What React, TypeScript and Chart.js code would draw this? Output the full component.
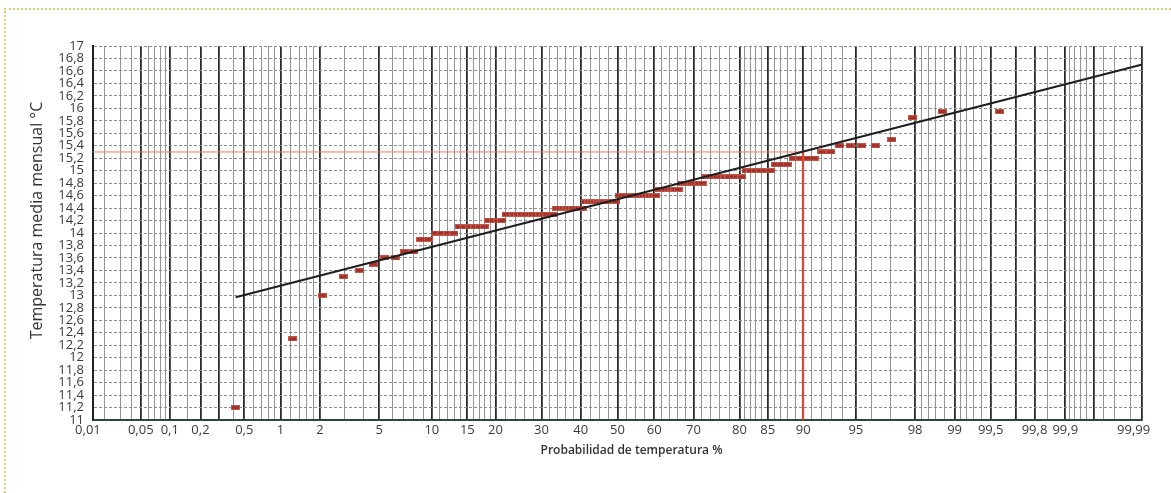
import React, { useEffect, useRef } from "react";
import { Chart, registerables } from "chart.js";

Chart.register(...registerables);

// Monthly mean temperatures (120 months), grouped: each value and how many months had it
const stepTemps = [11.2, 12.3, 13.0, 13.3, 13.4, 13.5, 13.6, 13.7, 13.9, 14.0, 14.1, 14.2, 14.3, 14.4, 14.5, 14.6, 14.7, 14.8, 14.9, 15.0, 15.1, 15.2, 15.3, 15.4, 15.5, 15.85, 15.95];
const stepCounts = [1, 1, 1, 1, 1, 1, 2, 2, 2, 4, 6, 4, 14, 9, 11, 13, 7, 7, 10, 6, 3, 4, 2, 4, 1, 1, 2];

// Probability-paper x axis: labelled lines, extra bold lines, thin lines (in %)
const xLabelProbs = [0.01, 0.05, 0.1, 0.2, 0.5, 1, 2, 5, 10, 15, 20, 30, 40, 50, 60, 70, 80, 85, 90, 95, 98, 99, 99.5, 99.8, 99.9, 99.99];
const xLabelTexts = ["0,01\u00a0\u00a0\u00a0", "0,05", "0,1", "0,2", "0,5", "1", "2", "5", "10", "15", "20", "30", "40", "50", "60", "70", "80", "85", "90", "95", "98", "99", "99,5", "99,8", "99,9", "99,99\u00a0\u00a0\u00a0\u00a0\u00a0"];
const xBoldProbs = [0.3, 99.7, 99.95];
const xThinProbs = [0.02, 0.03, 0.04, 0.06, 0.07, 0.08, 0.09, 0.15, 0.4, 0.6, 0.7, 0.8, 0.9, 1.2, 1.4, 1.6, 1.8, 3, 4, 6, 7, 8, 9, 11, 12, 13, 14, 16, 17, 18, 19, 22, 24, 26, 28, 32, 34, 36, 38, 42.5, 45, 47.5, 52.5, 55, 57.5, 62, 64, 66, 68, 72, 74, 76, 78, 81, 82, 83, 84, 86, 87, 88, 89, 91, 92, 93, 94, 96, 97, 98.2, 98.4, 98.6, 98.8, 99.1, 99.2, 99.3, 99.4, 99.85, 99.91, 99.92, 99.93, 99.94, 99.96, 99.97, 99.98];

// y axis
const yMin = 11;
const yMax = 17;
const yStep = 0.2;

// fitted normal line (two ends) and 90 % reading
const fitProbs = [0.42, 99.985];
const fitTemps = [12.97, 16.7];
const refProb = 90;
const refTemp = 15.3;

const Z_LIMIT = 3.62;

function probit(p: number): number {
  const a = [-39.69683028665376, 220.9460984245205, -275.9285104469687, 138.357751867269, -30.66479806614716, 2.506628277459239];
  const b = [-54.47609879822406, 161.5858368580409, -155.6989798598866, 66.80131188771972, -13.28068155288572];
  const c = [-0.007784894002430293, -0.3223964580411365, -2.400758277161838, -2.549671636485289, 4.374664141464968, 2.938163982698783];
  const d = [0.007784695709041462, 0.3224671290700398, 2.445134137142996, 3.754408661907416];
  const plow = 0.02425;
  if (p < plow) {
    const q = Math.sqrt(-2 * Math.log(p));
    return (((((c[0] * q + c[1]) * q + c[2]) * q + c[3]) * q + c[4]) * q + c[5]) / ((((d[0] * q + d[1]) * q + d[2]) * q + d[3]) * q + 1);
  }
  if (p > 1 - plow) {
    const q = Math.sqrt(-2 * Math.log(1 - p));
    return -(((((c[0] * q + c[1]) * q + c[2]) * q + c[3]) * q + c[4]) * q + c[5]) / ((((d[0] * q + d[1]) * q + d[2]) * q + d[3]) * q + 1);
  }
  const q = p - 0.5;
  const r = q * q;
  return ((((((a[0] * r + a[1]) * r + a[2]) * r + a[3]) * r + a[4]) * r + a[5]) * q) / (((((b[0] * r + b[1]) * r + b[2]) * r + b[3]) * r + b[4]) * r + 1);
}

const toZ = (pct: number) => Math.max(-Z_LIMIT, Math.min(Z_LIMIT, probit(pct / 100)));

const FONT = "'Open Sans', 'Noto Sans', sans-serif";
const NB = "\u00a0";

export default function App() {
  const ref = useRef<HTMLCanvasElement | null>(null);

  useEffect(() => {
    if (!ref.current) return;

    // sorted observations, plotted at Hazen positions (i - 0.5) / n
    const temps: number[] = [];
    stepTemps.forEach((t, k) => {
      for (let j = 0; j < stepCounts[k]; j++) temps.push(t);
    });
    const n = temps.length;
    const obs = temps.map((t, i) => ({ x: toZ(((i + 0.5) / n) * 100), y: t }));

    const gridProbs = Array.from(new Set([...xLabelProbs, ...xBoldProbs, ...xThinProbs])).sort((p, q) => p - q);
    const isBold = (p: number) => xLabelProbs.includes(p) || xBoldProbs.includes(p);

    const yTicks: number[] = [];
    for (let v = yMin; v <= yMax + 1e-9; v += yStep) yTicks.push(Math.round(v * 10) / 10);

    const marker = document.createElement("canvas");
    marker.width = 9;
    marker.height = 5;
    const mc = marker.getContext("2d")!;
    mc.fillStyle = "#c0584a";
    mc.fillRect(0, 0, 9, 5);
    mc.fillStyle = "#a2312b";
    mc.fillRect(1, 1, 7, 3);

    const chart = new Chart(ref.current, {
      type: "scatter",
      data: {
        datasets: [
          {
            label: "ajuste",
            data: fitProbs.map((p, i) => ({ x: toZ(p), y: fitTemps[i] })),
            showLine: true,
            borderColor: "#1e1e1e",
            borderWidth: 2,
            pointRadius: 0,
          },
          {
            label: "90v",
            data: [
              { x: toZ(refProb), y: refTemp },
              { x: toZ(refProb), y: yMin },
            ],
            showLine: true,
            borderColor: "#ec4a34",
            borderWidth: 2,
            pointRadius: 0,
          },
          {
            label: "90h",
            data: [
              { x: -Z_LIMIT, y: refTemp },
              { x: toZ(refProb), y: refTemp },
            ],
            showLine: true,
            borderColor: "#f07868",
            borderWidth: 1,
            pointRadius: 0,
          },
          {
            label: "obs",
            data: obs,
            showLine: false,
            pointStyle: marker as any,
            pointRadius: 5,
          },
        ],
      },
      options: {
        responsive: false,
        animation: false,
        devicePixelRatio: 1,
        layout: { padding: { left: 0, top: 46, right: 29, bottom: 35 } },
        plugins: { legend: { display: false }, tooltip: { enabled: false } },
        scales: {
          x: {
            type: "linear",
            min: -Z_LIMIT,
            max: Z_LIMIT,
            afterBuildTicks: (scale: any) => {
              scale.ticks = gridProbs.map((p) => ({ value: toZ(p) }));
            },
            afterFit: (scale: any) => {
              scale.height = 38;
            },
            ticks: {
              autoSkip: false,
              maxRotation: 0,
              minRotation: 0,
              padding: 2,
              color: "#3a3a3a",
              font: { family: FONT, size: 13 },
              callback: (_v: any, i: number) => {
                const k = xLabelProbs.indexOf(gridProbs[i]);
                return k >= 0 ? xLabelTexts[k] : "";
              },
            },
            grid: {
              drawTicks: false,
              color: (ctx: any) => (isBold(gridProbs[ctx.index]) ? "#2b2b2b" : "#959595"),
              lineWidth: (ctx: any) => (isBold(gridProbs[ctx.index]) ? 1.8 : 1),
            },
            border: { color: "#2e4638", width: 2 },
            title: {
              display: true,
              text: NB.repeat(9) + "Probabilidad de temperatura %",
              color: "#333",
              font: { family: FONT, size: 12, weight: "600" },
              padding: { top: 0, bottom: 0 },
            },
          },
          y: {
            type: "linear",
            min: yMin,
            max: yMax,
            afterBuildTicks: (scale: any) => {
              scale.ticks = yTicks.map((v) => ({ value: v }));
            },
            afterFit: (scale: any) => {
              scale.width = 93;
            },
            ticks: {
              autoSkip: false,
              padding: 9,
              color: "#3a3a3a",
              font: { family: FONT, size: 13 },
              callback: (v: any) => {
                const r = Math.round(Number(v) * 10) / 10;
                return (Number.isInteger(r) ? String(r) : r.toFixed(1)).replace(".", ",");
              },
            },
            grid: { drawTicks: false, color: "#8d8d8d", lineWidth: 1 },
            border: { color: "#222", width: 2, dash: [3, 2] },
            title: {
              display: true,
              text: NB.repeat(6) + "Temperatura media mensual °C",
              color: "#333",
              font: { family: FONT, size: 16 },
              padding: { top: 28, bottom: 0 },
            },
          },
        },
      },
    } as any);

    return () => chart.destroy();
  }, []);

  return (
    <div style={{ position: "fixed", left: 0, top: 0, width: 1171, height: 493, background: "#fff" }}>
      <div
        style={{
          position: "absolute",
          left: 4,
          top: 8,
          right: 0,
          bottom: 0,
          borderTop: "2px dotted #d9cf72",
          borderLeft: "2px dotted #d9cf72",
        }}
      />
      <canvas ref={ref} width={1171} height={493} style={{ position: "absolute", left: 0, top: 0, width: 1171, height: 493 }} />
    </div>
  );
}
